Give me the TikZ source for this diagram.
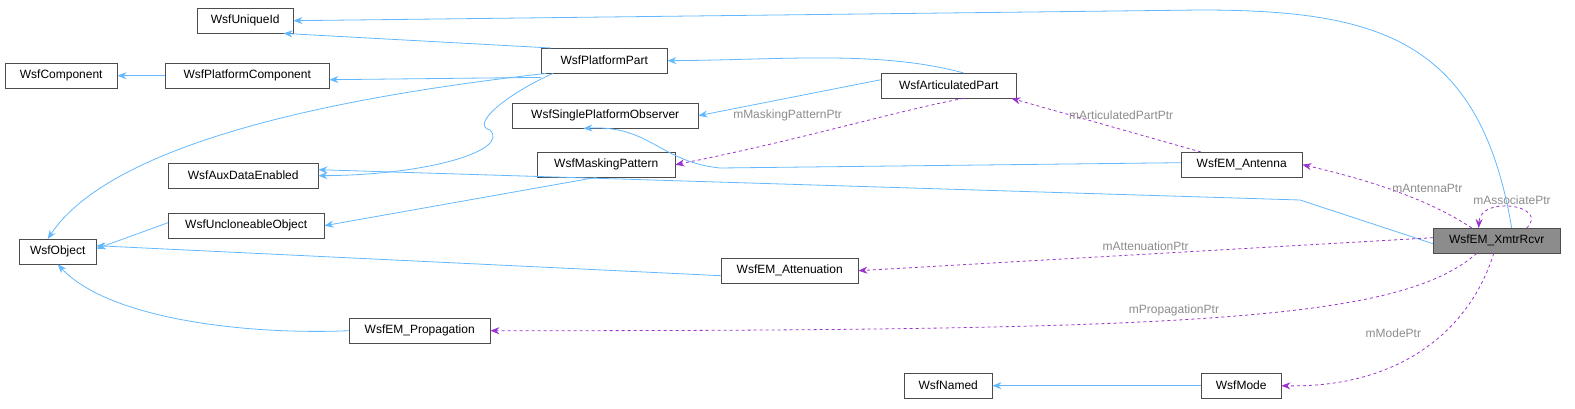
\documentclass[tikz,border=0pt]{standalone}
\usepackage{fontspec}
\setmainfont{Liberation Sans}
\usetikzlibrary{arrows.meta}
\definecolor{inh}{HTML}{63B8FF}
\definecolor{use}{HTML}{9A32CD}
\begin{document}
\begin{tikzpicture}[x=1pt,y=-1pt,
 box/.style={draw=black!70,fill=white,font=\fontsize{12}{13}\selectfont,inner sep=0pt,minimum height=25pt,anchor=north west},
 inh/.style={draw=inh,line width=0.8pt,-{Stealth[length=9pt,width=7pt,inh]}},
 use/.style={draw=use,dashed,line width=0.8pt,-{Stealth[length=9pt,width=7pt,use]}},
 lbl/.style={text=black!45,font=\fontsize{12}{13}\selectfont}]
\useasboundingbox (0,0) rectangle (1575,409);
\newcommand{\bx}[5]{\node[box,minimum width=#4pt] (#1) at (#2,#3) {#5};}
\bx{uid}{197}{8}{96}{WsfUniqueId}
\bx{comp}{5}{63}{112}{WsfComponent}
\bx{pc}{165}{63}{164}{WsfPlatformComponent}
\bx{pp}{541}{48}{126}{WsfPlatformPart}
\bx{ap}{881}{73}{135}{WsfArticulatedPart}
\bx{spo}{512}{103}{186}{WsfSinglePlatformObserver}
\bx{mp}{537}{152}{138}{WsfMaskingPattern}
\bx{aux}{168}{163}{150}{WsfAuxDataEnabled}
\bx{ant}{1181}{152}{121}{WsfEM\_Antenna}
\bx{unc}{168}{213}{156}{WsfUncloneableObject}
\bx{obj}{19}{239}{77}{WsfObject}
\node[box,minimum width=127pt,fill=black!45] (xr) at (1433,228) {WsfEM\_XmtrRcvr};
\bx{att}{721}{258}{137}{WsfEM\_Attenuation}
\bx{prop}{349}{318}{141}{WsfEM\_Propagation}
\bx{named}{904}{373}{88}{WsfNamed}
\bx{mode}{1201}{373}{80}{WsfMode}

\draw[inh] ([xshift=10]pp.north west) -- ([xshift=-10]uid.south east);
\draw[inh] ([xshift=15]xr.north) .. controls (1480,40) and (1380,10) .. (1200,10) -- (uid.east);
\draw[inh] (pc.west) -- (comp.east);
\draw[inh] ([yshift=-4]pp.south west) -- ([yshift=-4]pc.east);
\draw[inh] ([xshift=15]ap.north) .. controls (880,50) and (780,60) .. (pp.east);
\draw[inh] ([xshift=5]pp.south west) .. controls (400,90) and (120,130) .. ([xshift=-10]obj.north);
\draw[inh] ([xshift=12]pp.south west) .. controls (505,95) and (470,125) .. (490,130) .. controls (510,150) and (430,175) .. (aux.east);
\draw[inh] ([yshift=6]ap.west) -- (spo.east);
\draw[inh] ([yshift=2]ant.west) -- (720,168) .. controls (660,162) and (650,125) .. ([xshift=-115]spo.south east);
\draw[use] ([xshift=20]ant.north west) -- node[lbl,above,pos=0.5,xshift=15pt,yshift=2pt]{mArticulatedPartPtr} ([xshift=-5]ap.south east);
\draw[use] ([xshift=15]ap.south) .. controls (900,110) and (800,140) .. node[lbl,above,pos=0.55,xshift=-40pt,yshift=6pt]{mMaskingPatternPtr} (mp.east);
\draw[inh] ([xshift=-10]mp.south) -- (unc.east);
\draw[inh] ([yshift=-3]xr.west) -- (1300,200) -- ([yshift=6]aux.east);
\draw[inh] ([yshift=3]unc.west) -- ([yshift=3]obj.east);
\draw[inh] ([yshift=-5]att.west) -- ([yshift=6]obj.east);
\draw[inh] (prop.west) .. controls (250,335) and (110,320) .. (obj.south);
\draw[use] ([xshift=-25]xr.north) .. controls (1430,200) and (1370,180) .. node[lbl,above,pos=0.45,xshift=22pt,yshift=-2pt]{mAntennaPtr} (ant.east);
\draw[use] ([xshift=30]xr.north) .. controls (1550,205) and (1480,195) .. node[lbl,above,pos=0.5,yshift=-1pt]{mAssociatePtr} ([xshift=-18]xr.north);
\draw[use] ([yshift=3]xr.west) -- node[lbl,above]{mAttenuationPtr} (att.east);
\draw[use] ([xshift=-20]xr.south) .. controls (1400,320) and (1200,331) .. node[lbl,above,pos=0.55]{mPropagationPtr} (prop.east);
\draw[use] ([xshift=-3]xr.south) .. controls (1470,330) and (1400,388) .. node[lbl,above,pos=0.45,xshift=-40pt]{mModePtr} (mode.east);
\draw[inh] (mode.west) -- (named.east);
\end{tikzpicture}
\end{document}
